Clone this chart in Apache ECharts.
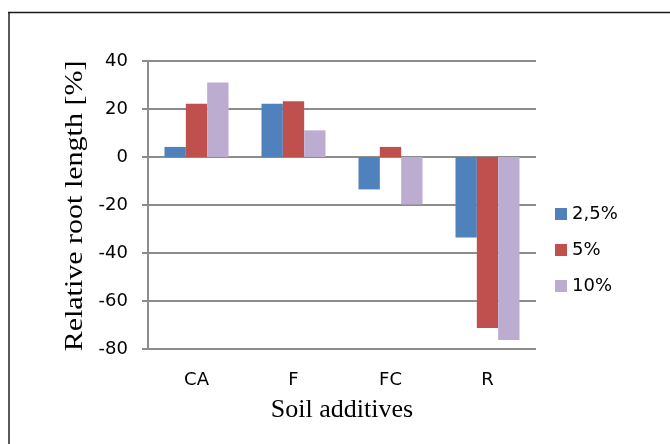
<!DOCTYPE html>
<html>
<head>
<meta charset="utf-8">
<script src="https://cdn.jsdelivr.net/npm/echarts@6/dist/echarts.min.js"></script>
<style>
  html, body { margin: 0; padding: 0; background: #fff; }
  #chart { width: 670px; height: 444px; }
</style>
</head>
<body>
<div id="chart"></div>
<script>
// Soil additives on the category axis
const categories = ['CA', 'F', 'FC', 'R'];
// Additive dose per series
const seriesNames = ['2,5%', '5%', '10%'];
// Relative root length [%] for each dose
const dose25 = [4.2, 22.2, -13.5, -33.5];
const dose5 = [22.2, 23.2, 4.2, -71.2];
const dose10 = [31.0, 11.1, -19.8, -76.2];
// Value axis range and step
const yMin = -80, yMax = 40, yStep = 20;

const colors = ['#4F81BD', '#C0504D', '#BCADD0'];
const gridColor = '#8C8C8C';
const labelFont = 'DejaVu Sans';
const titleFont = 'Liberation Serif';

const chart = echarts.init(document.getElementById('chart'), null, { renderer: 'canvas' });

const values = [dose25, dose5, dose10];

chart.setOption({
  animation: false,
  backgroundColor: '#ffffff',
  color: colors,
  grid: { left: 148, right: 134, top: 61, bottom: 95, containLabel: false },
  legend: {
    orient: 'vertical',
    left: 555,
    top: 205,
    padding: 0,
    itemWidth: 12,
    itemHeight: 12,
    itemGap: 18,
    icon: 'rect',
    textStyle: { fontFamily: labelFont, fontSize: 18, color: '#000' },
    data: seriesNames
  },
  xAxis: {
    type: 'category',
    data: categories,
    axisLine: { show: false, onZero: false },
    axisTick: { show: false },
    axisLabel: { fontFamily: labelFont, fontSize: 18, color: '#000', margin: 22 },
    splitLine: { show: false }
  },
  yAxis: {
    type: 'value',
    min: yMin,
    max: yMax,
    interval: yStep,
    axisLine: { show: true, lineStyle: { color: gridColor, width: 2 } },
    axisTick: { show: true, length: 6, lineStyle: { color: gridColor, width: 2 } },
    axisLabel: { fontFamily: labelFont, fontSize: 18, color: '#000', margin: 20 },
    splitLine: { show: true, lineStyle: { color: gridColor, width: 2 } }
  },
  series: seriesNames.map((name, i) => ({
    name: name,
    type: 'bar',
    data: values[i],
    barGap: '0%',
    barCategoryGap: '34%',
    itemStyle: { color: colors[i] }
  })),
  graphic: [
    // frame around the chart area
    { type: 'line', shape: { x1: 9, y1: 12, x2: 9, y2: 444 }, style: { stroke: '#595959', lineWidth: 2 } },
    { type: 'line', shape: { x1: 8, y1: 12.5, x2: 670, y2: 12.5 }, style: { stroke: '#1a1a1a', lineWidth: 1.5 } },
    // axis titles
    {
      type: 'text', x: 75, y: 206, rotation: Math.PI / 2, scaleX: 1.2,
      style: { text: 'Relative root length [%]', font: '25px "' + titleFont + '"', fill: '#000', align: 'center', verticalAlign: 'middle' }
    },
    {
      type: 'text', x: 342, y: 410,
      style: { text: 'Soil additives', font: '26px "' + titleFont + '"', fill: '#000', align: 'center', verticalAlign: 'middle' }
    }
  ]
});
</script>
</body>
</html>
